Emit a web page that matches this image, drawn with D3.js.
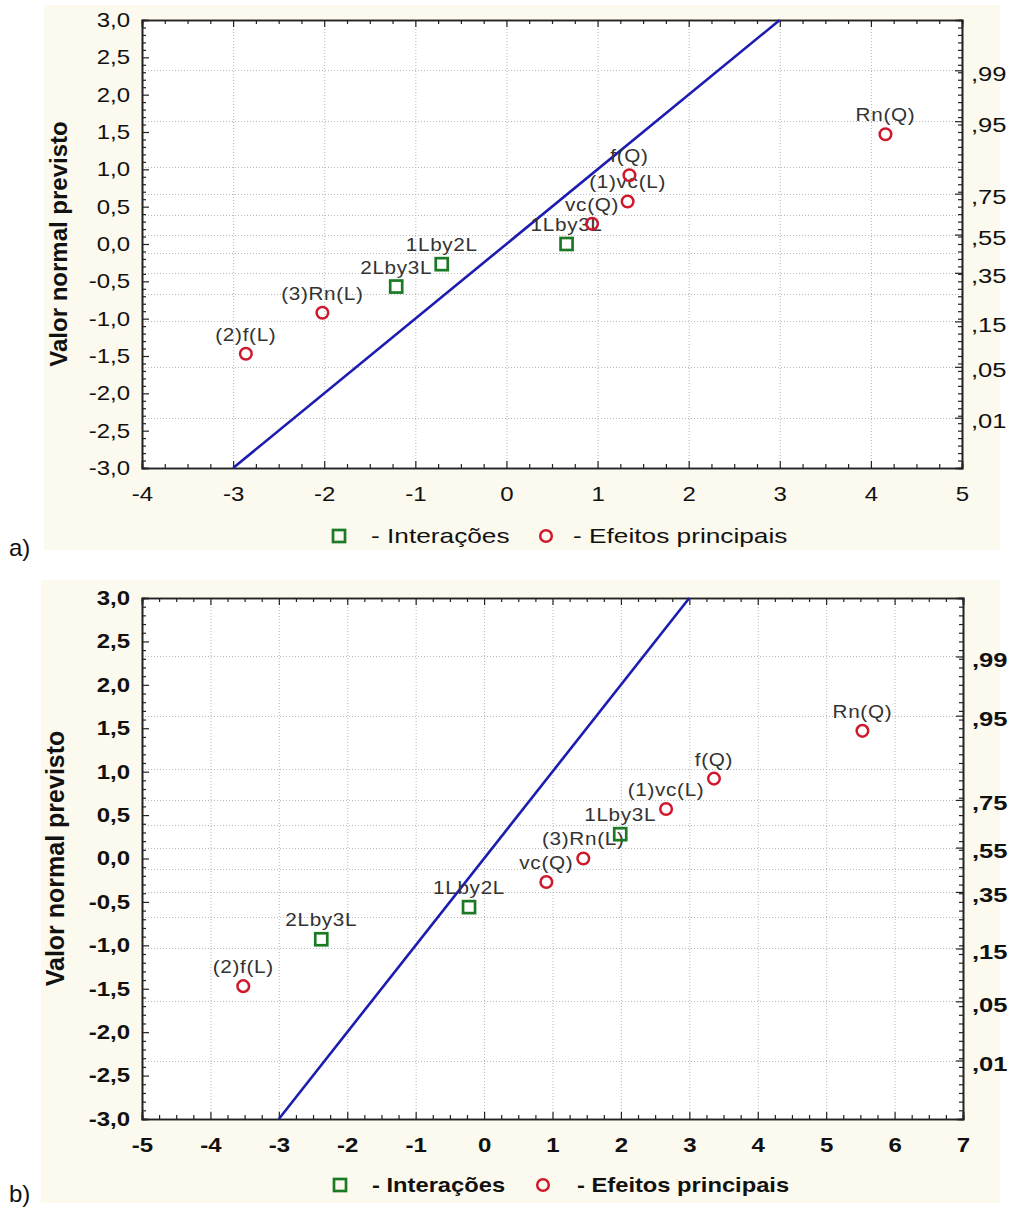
<!DOCTYPE html>
<html><head><meta charset="utf-8">
<script src="https://cdn.jsdelivr.net/npm/d3@7"></script>
<style>
body{margin:0;background:#fff;}
svg{display:block;font-family:Arial,"Liberation Sans",sans-serif;}
</style>
</head><body>
<svg id="c" width="1010" height="1212"></svg>
<script>
// ---------- data ----------
const labelsA  = ["(2)f(L)","(3)Rn(L)","2Lby3L","1Lby2L","1Lby3L","vc(Q)","(1)vc(L)","f(Q)","Rn(Q)"];
const typesA   = ["main","main","int","int","int","main","main","main","main"];
const effectsA = [-2.86,-2.02,-1.21,-0.71,0.66,0.94,1.33,1.35,4.16];
const normalA  = [-1.47,-0.92,-0.57,-0.27,0.00,0.27,0.57,0.92,1.47];

const labelsB  = ["(2)f(L)","2Lby3L","1Lby2L","vc(Q)","(3)Rn(L)","1Lby3L","(1)vc(L)","f(Q)","Rn(Q)"];
const typesB   = ["main","int","int","main","main","int","main","main","main"];
const effectsB = [-3.52,-2.38,-0.22,0.91,1.45,1.99,2.66,3.36,5.53];
const normalB  = [-1.47,-0.93,-0.56,-0.27,0.00,0.28,0.57,0.92,1.47];

const xTicksA = [-4,-3,-2,-1,0,1,2,3,4,5];
const xTicksB = [-5,-4,-3,-2,-1,0,1,2,3,4,5,6,7];
const yTicks  = [-3,-2.5,-2,-1.5,-1,-0.5,0,0.5,1,1.5,2,2.5,3];
const yTickLabels = ["-3,0","-2,5","-2,0","-1,5","-1,0","-0,5","0,0","0,5","1,0","1,5","2,0","2,5","3,0"];
const probGrid = [0.01,0.05,0.15,0.25,0.35,0.45,0.55,0.65,0.75,0.85,0.95,0.99];
const probLabelValues = [0.01,0.05,0.15,0.35,0.55,0.75,0.95,0.99];
const probLabels = [",01",",05",",15",",35",",55",",75",",95",",99"];
const refLine = [-3, 3];
const legendItems = ["- Interações","- Efeitos principais"];
const yTitle = "Valor normal previsto";

// inverse normal CDF (Acklam)
function qnorm(p){
  const a=[-3.969683028665376e+01,2.209460984245205e+02,-2.759285104469687e+02,1.383577518672690e+02,-3.066479806614716e+01,2.506628277459239e+00];
  const b=[-5.447609879822406e+01,1.615858368580409e+02,-1.556989798598866e+02,6.680131188771972e+01,-1.328068155288572e+01];
  const c=[-7.784894002430293e-03,-3.223964580411365e-01,-2.400758277161838e+00,-2.549732539343734e+00,4.374664141464968e+00,2.938163982698783e+00];
  const d=[7.784695709041462e-03,3.224671290700398e-01,2.445134137142996e+00,3.754408661907416e+00];
  const pl=0.02425;
  let q,r;
  if(p<pl){q=Math.sqrt(-2*Math.log(p));return (((((c[0]*q+c[1])*q+c[2])*q+c[3])*q+c[4])*q+c[5])/((((d[0]*q+d[1])*q+d[2])*q+d[3])*q+1);}
  if(p>1-pl){q=Math.sqrt(-2*Math.log(1-p));return -(((((c[0]*q+c[1])*q+c[2])*q+c[3])*q+c[4])*q+c[5])/((((d[0]*q+d[1])*q+d[2])*q+d[3])*q+1);}
  q=p-0.5;r=q*q;
  return (((((a[0]*r+a[1])*r+a[2])*r+a[3])*r+a[4])*r+a[5])*q/(((((b[0]*r+b[1])*r+b[2])*r+b[3])*r+b[4])*r+1);
}

// horizontal glyph stretch (the reference text is wider than Arial)
function stretch(sel, sx){
  sel.each(function(){
    const t = d3.select(this);
    const x = +t.attr("x") || 0;
    t.attr("x", x/sx).attr("transform", `scale(${sx},1)`);
  });
}

const svg = d3.select("#c");
const GREEN = "#1b7a24", RED = "#d0182c", BLUE = "#1c1cb0";

function panel(cfg){
  const g = svg.append("g");
  g.append("rect").attr("x",cfg.bg[0]).attr("y",cfg.bg[1]).attr("width",cfg.bg[2]).attr("height",cfg.bg[3]).attr("fill","#fcf9ee");
  g.append("text").attr("x",9).attr("y",cfg.tagY).attr("font-size",24).attr("fill","#111").text(cfg.tag);

  const x = d3.scaleLinear().domain(cfg.xDomain).range([cfg.L,cfg.R]);
  const y = d3.scaleLinear().domain([-3,3]).range([cfg.B,cfg.T]);
  g.append("rect").attr("x",cfg.L).attr("y",cfg.T).attr("width",cfg.R-cfg.L).attr("height",cfg.B-cfg.T).attr("fill","#fff");

  // grid
  const grid = g.append("g").attr("stroke","#b9b9b9").attr("stroke-width",1).attr("stroke-dasharray","1,2");
  cfg.xTicks.slice(1,-1).forEach(v=>{
    grid.append("line").attr("x1",x(v)+0.5).attr("x2",x(v)+0.5).attr("y1",cfg.T).attr("y2",cfg.B);
  });
  probGrid.forEach(p=>{
    const yy = Math.round(y(qnorm(p)))+0.5;
    grid.append("line").attr("x1",cfg.L).attr("x2",cfg.R).attr("y1",yy).attr("y2",yy);
  });

  const fw = cfg.bold ? "bold" : "normal";
  const minorX = d3.range(cfg.xDomain[0], cfg.xDomain[1]+0.001, 0.25).filter(v=>Math.abs(v-Math.round(v))>1e-6);
  const minorY = d3.range(-3,3.001,0.1).filter(v=>Math.abs(v*2-Math.round(v*2))>1e-6);

  const bottom = g.append("g").attr("transform",`translate(0,${cfg.B})`)
    .call(d3.axisBottom(x).tickValues(cfg.xTicks).tickSize(-7).tickPadding(19).tickFormat(d=>String(d)));
  g.append("g").attr("transform",`translate(0,${cfg.B})`).call(d3.axisBottom(x).tickValues(minorX).tickSize(-4).tickFormat(""));
  g.append("g").attr("transform",`translate(0,${cfg.T})`).call(d3.axisTop(x).tickValues(cfg.xTicks).tickSize(-7).tickFormat(""));
  g.append("g").attr("transform",`translate(0,${cfg.T})`).call(d3.axisTop(x).tickValues(minorX).tickSize(-4).tickFormat(""));
  const left = g.append("g").attr("transform",`translate(${cfg.L},0)`)
    .call(d3.axisLeft(y).tickValues(yTicks).tickSize(-7).tickPadding(12).tickFormat((d,i)=>yTickLabels[i]));
  g.append("g").attr("transform",`translate(${cfg.L},0)`).call(d3.axisLeft(y).tickValues(minorY).tickSize(-4).tickFormat(""));
  g.append("g").attr("transform",`translate(${cfg.R},0)`).call(d3.axisRight(y).tickValues(minorY.concat(yTicks)).tickSize(-4).tickFormat(""));
  const right = g.append("g").attr("transform",`translate(${cfg.R},0)`)
    .call(d3.axisRight(y).tickValues(probLabelValues.map(qnorm)).tickSize(-7).tickPadding(9).tickFormat((d,i)=>probLabels[i]));
  g.selectAll(".domain").attr("stroke","#222").attr("stroke-width",1.6);
  g.selectAll(".tick line").attr("stroke","#222").attr("stroke-width",1.2);
  g.selectAll(".tick text").attr("font-size",20).attr("font-family","Arial, 'Liberation Sans', sans-serif").attr("font-weight",fw).attr("fill","#111");
  stretch(bottom.selectAll(".tick text"), 1.2);
  stretch(left.selectAll(".tick text"), 1.2);
  right.selectAll(".tick text").attr("dy","0.5em");
  stretch(right.selectAll(".tick text"), 1.28);

  // y title
  g.append("text").attr("transform",`translate(${cfg.titleX},${(cfg.T+cfg.B)/2}) rotate(-90)`)
    .attr("text-anchor","middle").attr("font-size",cfg.titleSize).attr("font-weight","bold").attr("fill","#111").text(yTitle);

  // reference line
  g.append("line").attr("x1",x(refLine[0])).attr("y1",y(refLine[0])).attr("x2",x(refLine[1])).attr("y2",y(refLine[1]))
    .attr("stroke",BLUE).attr("stroke-width",2.6);

  const pts = cfg.labels.map((l,i)=>({l, t:cfg.types[i], ex:cfg.effects[i], ny:cfg.normal[i]}));
  const pl = g.selectAll(".pl").data(pts).enter().append("text")
    .attr("x",d=>x(d.ex)).attr("y",d=>y(d.ny)-13).attr("text-anchor","middle")
    .attr("font-size",18).attr("letter-spacing",0.6).attr("fill","#333").text(d=>d.l);
  stretch(pl, 1.15);
  pts.forEach(d=>{
    if(d.t==="int"){
      g.append("rect").attr("x",x(d.ex)-6).attr("y",y(d.ny)-6).attr("width",12).attr("height",12)
        .attr("fill","none").attr("stroke",GREEN).attr("stroke-width",2.7);
    } else {
      g.append("circle").attr("cx",x(d.ex)).attr("cy",y(d.ny)).attr("r",5.8)
        .attr("fill","none").attr("stroke",RED).attr("stroke-width",2.5);
    }
  });

  // legend
  const ly = cfg.legendY;
  g.append("rect").attr("x",cfg.legX[0]-6).attr("y",ly-6).attr("width",12).attr("height",12)
    .attr("fill","none").attr("stroke",GREEN).attr("stroke-width",2.7);
  const t1 = g.append("text").attr("x",cfg.legX[1]).attr("y",ly+7).attr("font-size",21).attr("font-weight",fw).attr("fill","#111").text(legendItems[0]);
  g.append("circle").attr("cx",cfg.legX[2]).attr("cy",ly).attr("r",5.8)
    .attr("fill","none").attr("stroke",RED).attr("stroke-width",2.5);
  const t2 = g.append("text").attr("x",cfg.legX[3]).attr("y",ly+7).attr("font-size",21).attr("font-weight",fw).attr("fill","#111").text(legendItems[1]);
  stretch(t1, cfg.legSx); stretch(t2, cfg.legSx);
}

panel({bg:[44,5,956,545], tag:"a)", tagY:556, xDomain:[-4,5], xTicks:xTicksA,
  L:142, R:962, T:20, B:468, bold:false, titleX:67, titleSize:24,
  labels:labelsA, types:typesA, effects:effectsA, normal:normalA,
  legendY:536, legX:[339,371,546,573], legSx:1.25});
panel({bg:[41,580,959,623], tag:"b)", tagY:1202, xDomain:[-5,7], xTicks:xTicksB,
  L:142, R:963, T:598, B:1119, bold:true, titleX:64, titleSize:25,
  labels:labelsB, types:typesB, effects:effectsB, normal:normalB,
  legendY:1185, legX:[340,372,543,577], legSx:1.13});
</script>
</body></html>
